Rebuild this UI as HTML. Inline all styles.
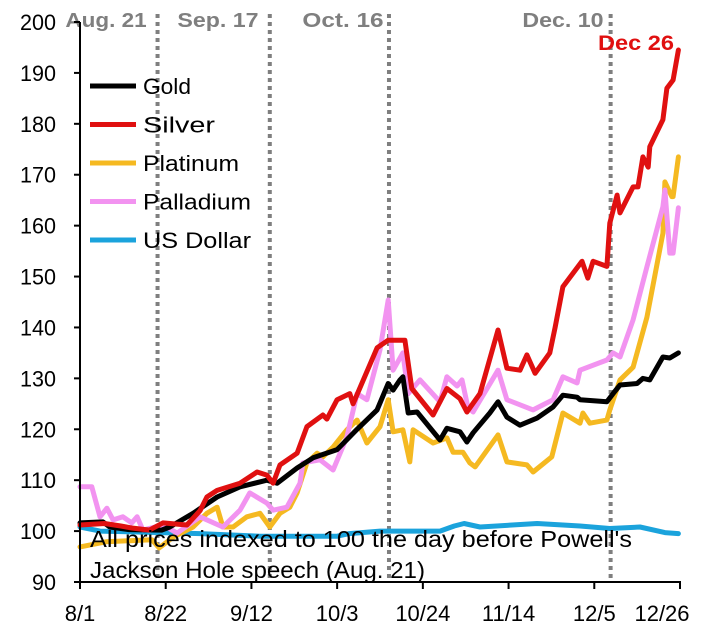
<!DOCTYPE html>
<html><head><meta charset="utf-8"><style>
html,body{margin:0;padding:0;background:#fff;}
svg{display:block;font-family:"Liberation Sans",sans-serif;}
</style></head><body>
<svg id="chart" width="718" height="632" viewBox="0 0 718 632"></svg>
<script>
const yTicks=[90,100,110,120,130,140,150,160,170,180,190,200];
const xTickLabels=["8/1","8/22","9/12","10/3","10/24","11/14","12/5","12/26"];
const xTickDays=[0,21,42,63,84,105,126,147];
const eventLabels=["Aug. 21","Sep. 17","Oct. 16","Dec. 10"];
const eventDays=[19,46.5,75.7,130];
const goldDays=[0,5.6,7.3,12,20,22,27.7,33.6,39.2,45.8,48.3,53.2,57.1,63,67.9,72.8,75.5,76.7,78.4,79.1,80.4,82.6,88.2,89.9,93.1,94.8,96.3,100.4,102.4,104.6,107.8,112,115.9,118.3,121.8,122.5,129.1,130.6,132.3,136.5,137.9,139.6,142.8,144.5,146.6];
const goldVals=[101.6,101.8,100.8,100.3,100.2,100.8,103.5,106.7,108.7,110,109.4,112.4,114.4,116,120,123.8,129,127.7,129.7,130.3,123.2,123.4,117.9,120.2,119.5,117.5,119.3,123.2,125.4,122.4,120.8,122.2,124.4,126.7,126.3,125.8,125.4,127,128.7,129,130,129.7,134.2,134,135];
const silverDays=[0,6,10,12.7,17,20.3,26.2,29.4,31.1,33.6,39.2,43.4,45.8,47.3,49,53.2,55.6,59.5,60.5,63,66.1,66.9,72.8,75.5,79.6,81.3,86.5,89.9,93.1,94.8,98,102.4,104.6,107.8,109.5,111.5,115.1,116.4,118.3,123,124.4,125.7,129.1,129.8,131.6,132.3,135.5,136.7,137.9,139.2,139.6,142.8,143.8,145.3,146.6];
const silverVals=[101.2,101.5,101,100.6,100.2,101.6,101.2,104,106.7,108,109.4,111.6,111,109.4,113,115.3,120.5,122.8,122,125.8,127,125,136,137.5,137.5,128,122.8,128,126,123.4,127,139.5,132,131.6,134.6,131,135,140,148,153,149.7,153,152,160.5,166,162.5,167.6,167.6,173.5,171.5,175.5,180.8,187,188.6,194.5];
const platinumDays=[0,6.4,17.6,19.4,22.8,27.7,31.1,33.6,35,37.5,40.9,44.1,46.5,49,51.4,53.2,55.6,58.1,59.5,62,65.4,67.9,70.3,73.5,75.5,76.7,79.1,80.8,81.6,86.5,89.9,91.4,93.8,95.5,96.8,102.4,104.6,109.5,111,115.6,118.3,122.5,123.2,124.9,129.1,129.8,132.3,135.5,138.9,142.8,143.3,145,145.3,146.6];
const platinumVals=[96.9,97.9,98.3,96.7,98.8,100.8,103.5,104.7,100.8,100.8,102.8,103.5,100.8,103.5,104.7,107.5,113.4,115.3,114.6,116.5,119.9,121.8,117.3,120.5,125.8,119.5,119.9,113.6,119.9,117.3,118.3,115.5,115.5,113.4,112.6,118.9,113.6,113,111.6,114.6,123.2,121.2,123.2,121.2,121.8,123.8,129.7,132.2,142,158.5,168.6,165.7,165.7,173.5];
const palladiumDays=[0,2.9,4.9,6.6,8.1,10.5,12.7,14,15.4,20.3,23.8,29.4,35,39.2,41.6,45.8,47.3,50.7,53.9,54.6,58.8,62,65.4,67.9,70.3,73.5,75.5,76.7,79.1,80.4,83.3,88.2,89.9,92.4,93.6,95,96.3,102.4,104.6,111,115.9,118.3,121.8,122.5,129.1,130.6,132.3,135.5,138.9,142.8,143.3,144.5,145.3,146.6];
const palladiumVals=[108.7,108.7,102.8,104.5,102.2,102.8,101.6,102.8,100.2,101.2,99.6,102.8,100.8,104.1,107.5,105.5,104.1,104.7,109.4,113.4,114,112,118.5,127,125.8,135.6,145.4,131.6,135,127,129.7,125.4,130.3,128.5,129.7,124.4,123.4,131.6,125.8,123.8,125.8,130.3,129.1,131.6,133.6,135,134.2,141.5,151.9,163.7,167,154.6,154.6,163.5];
const usdDays=[0,4.9,29.4,44.1,63,66,73.5,88.2,91.7,94.1,98,112,122.5,129.8,137.2,143.3,146.6];
const usdVals=[100.8,100,99.5,99,99,99.5,100,100,101,101.5,100.8,101.5,101,100.5,100.8,99.7,99.5];

const svg=document.getElementById('chart');
const NS='http://www.w3.org/2000/svg';
const X0=80,X1=680,Y0=582,Y1=22;
const xs=d=>X0+(d/147)*(X1-X0);
const ys=v=>Y0-(v-90)/(200-90)*(Y0-Y1);
function mk(tag,attrs,parent){const e=document.createElementNS(NS,tag);for(const k in attrs)e.setAttribute(k,attrs[k]);(parent||svg).appendChild(e);return e;}

eventDays.forEach((d,i)=>{
  const l=mk('line',{x1:xs(d),x2:xs(d),y1:14,y2:Y0,stroke:'#7f7f7f','stroke-width':4,'stroke-dasharray':'4 4'});
  
  
});
const evX=[106,218,343,563];
eventLabels.forEach((t,i)=>{
  const tx=mk('text',{x:evX[i],y:27,'text-anchor':'middle','font-size':20,'font-weight':'bold',fill:'#7f7f7f',textLength:t.length*11.6,lengthAdjust:'spacingAndGlyphs'});
  tx.textContent=t;
  
  
});
const d26=mk('text',{x:636,y:50,'text-anchor':'middle','font-size':21,'font-weight':'bold',fill:'#e01010',textLength:76,lengthAdjust:'spacingAndGlyphs'});
d26.textContent='Dec 26';



const series=[
 ['usd-line',usdDays,usdVals,'#1ba3dc'],
 ['platinum-line',platinumDays,platinumVals,'#f5b921'],
 ['palladium-line',palladiumDays,palladiumVals,'#f293f0'],
 ['gold-line',goldDays,goldVals,'#000000'],
 ['silver-line',silverDays,silverVals,'#e01010']
];
series.forEach(s=>{
  const pts=s[1].map((d,i)=>xs(d).toFixed(1)+','+ys(s[2][i]).toFixed(1)).join(' ');
  const p=mk('polyline',{points:pts,fill:'none',stroke:s[3],'stroke-width':5,'stroke-linejoin':'round','stroke-linecap':'round'});
  
  
});

const ya=mk('line',{x1:X0,x2:X0,y1:Y1,y2:Y0+1,stroke:'#000','stroke-width':2});


const xa=mk('line',{x1:X0-1,x2:X1+1,y1:Y0,y2:Y0,stroke:'#000','stroke-width':2});


yTicks.forEach(v=>{
  mk('line',{x1:X0-6,x2:X0,y1:ys(v),y2:ys(v),stroke:'#000','stroke-width':2});
  const t=mk('text',{x:56,y:ys(v)+8,'text-anchor':'end','font-size':22,fill:'#000',textLength:String(v).length*12,lengthAdjust:'spacingAndGlyphs'});
  t.textContent=v;
  
  
});
xTickDays.forEach((d,i)=>{
  const tk=mk('line',{x1:xs(d),x2:xs(d),y1:Y0,y2:Y0+7,stroke:'#000','stroke-width':2});
  const t=mk('text',{x:xs(d)+(i==7?-18:0),y:621,'text-anchor':'middle','font-size':22,fill:'#000'});
  t.textContent=xTickLabels[i];
  
  
});

const leg=[['Gold','#000'],['Silver','#e01010'],['Platinum','#f5b921'],['Palladium','#f293f0'],['US Dollar','#1ba3dc']];
const g=mk('g',{});


leg.forEach((e,i)=>{
  const y=86+i*38.5;
  mk('line',{x1:90,x2:136,y1:y,y2:y,stroke:e[1],'stroke-width':5},g);
  const t=mk('text',{x:143,y:y+8,'font-size':22,fill:'#000',textLength:e[0].length*12,lengthAdjust:'spacingAndGlyphs'},g);
  t.textContent=e[0];
  
  
});

const n1=mk('text',{x:90,y:547,'font-size':23,fill:'#000',textLength:542,lengthAdjust:'spacingAndGlyphs'});
n1.textContent="All prices indexed to 100 the day before Powell's";


const n2=mk('text',{x:90,y:578,'font-size':23,fill:'#000',textLength:335,lengthAdjust:'spacingAndGlyphs'});
n2.textContent="Jackson Hole speech (Aug. 21)";


</script>
</body></html>
